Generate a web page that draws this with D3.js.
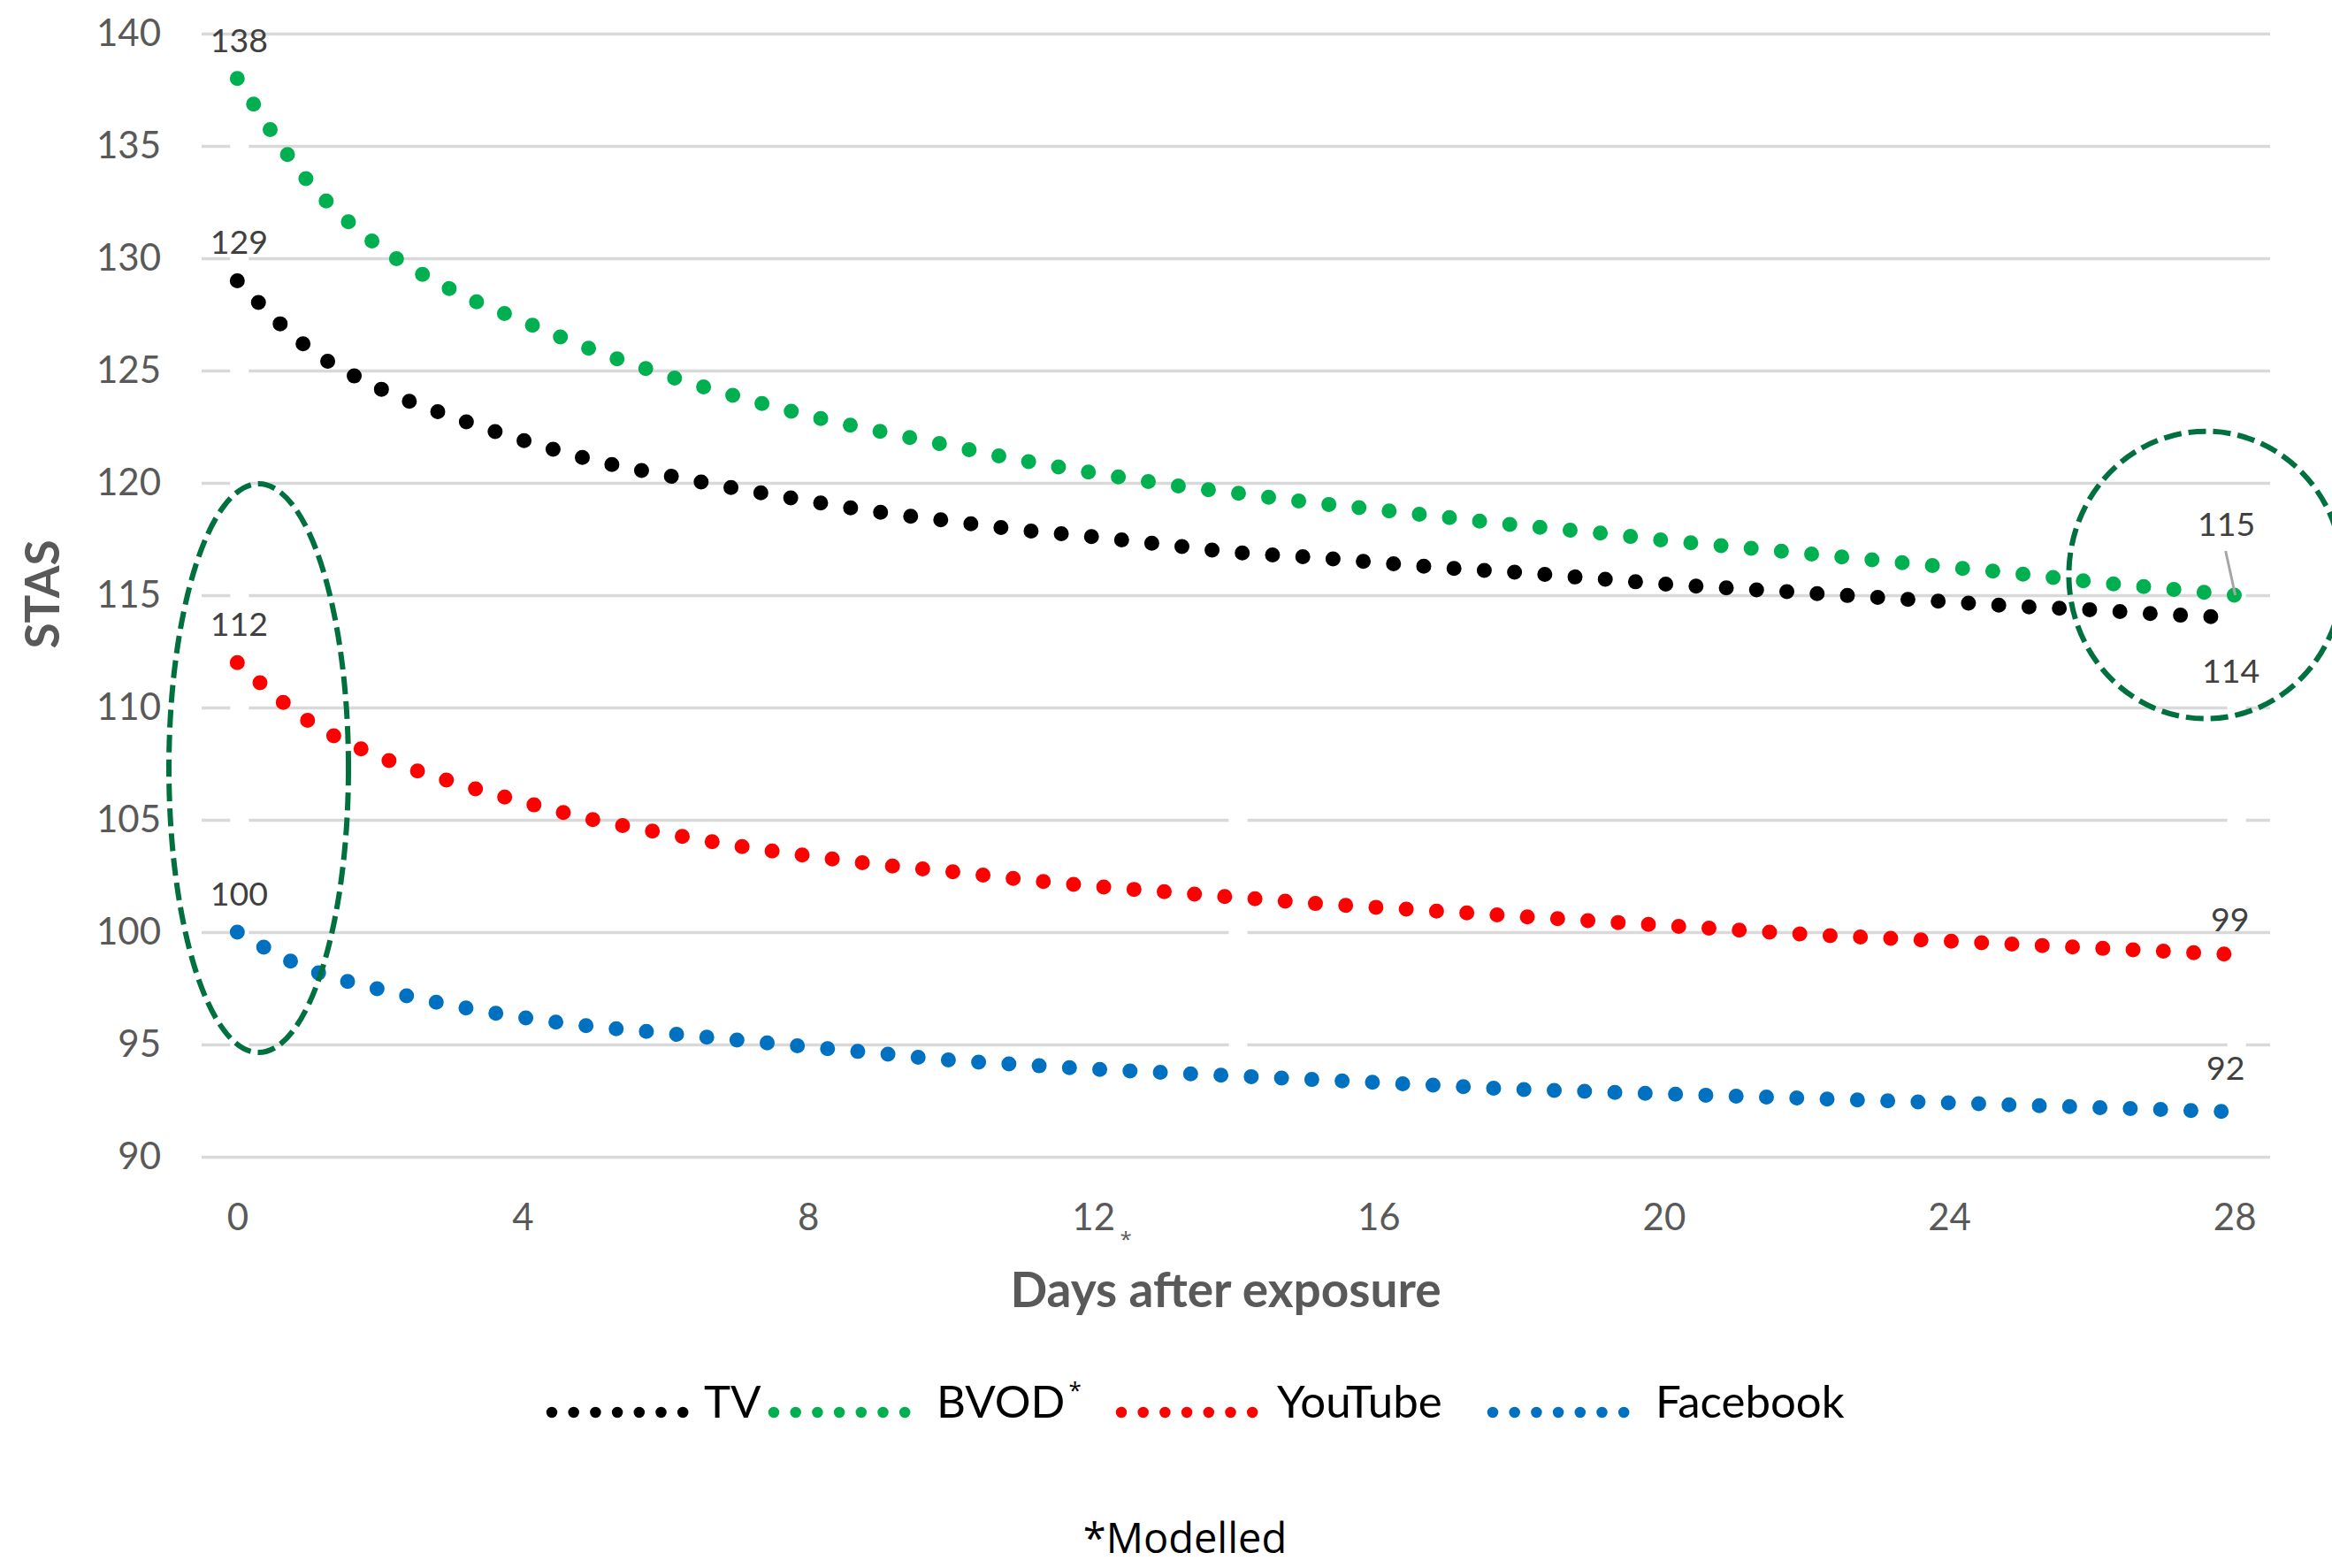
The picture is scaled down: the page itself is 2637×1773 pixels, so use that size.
<!DOCTYPE html>
<html>
<head>
<meta charset="utf-8">
<script src="https://cdn.jsdelivr.net/npm/d3@7"></script>
<style>
  html, body { margin: 0; padding: 0; background: #ffffff; }
  svg { display: block; font-family: Lato, "Open Sans", "Liberation Sans", sans-serif; }
</style>
</head>
<body>
<svg id="chart" width="2637" height="1773"></svg>
<script>
// ---- data ----
const days = [0, 1, 2, 3, 4, 5, 6, 7, 8, 9, 10, 11, 12, 13, 14, 15, 16, 17, 18, 19, 20, 21, 22, 23, 24, 25, 26, 27, 28];
const tickDays = [0, 4, 8, 12, 16, 20, 24, 28];
const yTicks = [90, 95, 100, 105, 110, 115, 120, 125, 130, 135, 140];

const seriesNames = ["TV", "BVOD", "YouTube", "Facebook"];
const tvValues = [129.0, 126.0, 124.2, 122.95, 121.9, 121.0, 120.35, 119.75, 119.2, 118.7, 118.3, 117.9, 117.6, 117.25, 116.9, 116.7, 116.45, 116.2, 116.0, 115.75, 115.5, 115.3, 115.1, 114.9, 114.7, 114.5, 114.35, 114.15, 114.0];
const bvodValues = [138.0, 133.4, 130.5, 128.6, 127.2, 125.9, 124.8, 123.85, 123.0, 122.3, 121.65, 121.0, 120.45, 119.95, 119.55, 119.15, 118.8, 118.45, 118.1, 117.8, 117.45, 117.15, 116.85, 116.55, 116.25, 115.95, 115.6, 115.3, 115.0];
const youtubeValues = [112.0, 109.4, 107.8, 106.7, 105.8, 105.0, 104.4, 103.85, 103.4, 103.0, 102.7, 102.35, 102.05, 101.8, 101.55, 101.3, 101.1, 100.9, 100.7, 100.5, 100.3, 100.1, 99.9, 99.75, 99.6, 99.45, 99.3, 99.15, 99.0];
const facebookValues = [100.0, 98.35, 97.45, 96.75, 96.2, 95.8, 95.5, 95.2, 94.9, 94.6, 94.3, 94.1, 93.9, 93.75, 93.6, 93.45, 93.3, 93.15, 93.0, 92.9, 92.8, 92.7, 92.6, 92.5, 92.4, 92.3, 92.2, 92.1, 92.0];
const seriesColors = ["#000000", "#00B050", "#FF0000", "#0070C0"];

// value labels shown at the first and last day of each series
const startLabels = ["129", "138", "112", "100"];
const endLabels = ["114", "115", "99", "92"];

// ---- layout ----
const W = 2637, H = 1773;
const plot = { left: 228, right: 2567, top: 38, bottom: 1308 };
const svg = d3.select("#chart");
svg.append("rect").attr("width", W).attr("height", H).attr("fill", "#ffffff");

const x = d3.scalePoint().domain(days).range([plot.left, plot.right]).padding(0.5);
const y = d3.scaleLinear().domain([90, 140]).range([plot.bottom, plot.top]);

const series = seriesNames.map((name, i) => ({
  name,
  color: seriesColors[i],
  values: [tvValues, bvodValues, youtubeValues, facebookValues][i]
}));

// ---- horizontal gridlines ----
const grid = svg.append("g")
  .attr("transform", `translate(${plot.left},0)`)
  .call(d3.axisLeft(y).tickValues(yTicks).tickSize(-(plot.right - plot.left)).tickFormat(""));
grid.select(".domain").remove();
grid.selectAll(".tick line").attr("stroke", "#D9D9D9").attr("stroke-width", 3.4);

// small white breaks across some gridlines
const gridBreaks = [
  { day: 0, values: [95, 100, 105, 110, 115, 120, 125, 130, 135] },
  { day: 14, values: [95, 100, 105] },
  { day: 28, values: [95, 105, 110, 115] }
];
gridBreaks.forEach(b => {
  svg.append("g").selectAll("rect").data(b.values).join("rect")
    .attr("x", x(b.day) + 2.5 - 10.5)
    .attr("y", v => y(v) - 4)
    .attr("width", 21)
    .attr("height", 8)
    .attr("fill", "#ffffff");
});

// ---- axes ----
const yAxis = svg.append("g")
  .attr("transform", `translate(${plot.left},0)`)
  .call(d3.axisLeft(y).tickValues(yTicks).tickSize(0).tickPadding(46));
yAxis.select(".domain").remove();
yAxis.selectAll("text")
  .attr("font-family", "Lato, 'Open Sans', sans-serif")
  .attr("font-size", 42).attr("fill", "#595959");

const xAxis = svg.append("g")
  .attr("transform", `translate(0,${plot.bottom})`)
  .call(d3.axisBottom(x).tickValues(tickDays).tickSize(0).tickPadding(53));
xAxis.select(".domain").remove();
xAxis.selectAll("text")
  .attr("font-family", "Lato, 'Open Sans', sans-serif")
  .attr("font-size", 42).attr("fill", "#595959");

// little asterisk next to the day-12 tick
svg.append("text")
  .attr("x", x(12) + 37).attr("y", 1410)
  .attr("text-anchor", "middle")
  .attr("font-family", "'Open Sans', sans-serif")
  .attr("font-size", 24).attr("fill", "#595959")
  .text("*");

// axis titles
svg.append("text")
  .attr("x", 1386).attr("y", 1478)
  .attr("text-anchor", "middle")
  .attr("font-size", 55).attr("font-weight", 700).attr("fill", "#595959")
  .text("Days after exposure");

svg.append("text")
  .attr("transform", "translate(67,672) rotate(-90)")
  .attr("text-anchor", "middle")
  .attr("font-size", 53).attr("font-weight", 700).attr("fill", "#595959")
  .text("STAS");

// ---- dotted series lines ----
const line = d3.line()
  .x((d, i) => x(days[i]))
  .y(d => y(d))
  .curve(d3.curveMonotoneX);

svg.append("g").selectAll("path").data(series).join("path")
  .attr("d", s => line(s.values))
  .attr("fill", "none")
  .attr("stroke", s => s.color)
  .attr("stroke-width", 17)
  .attr("stroke-linecap", "round")
  .attr("stroke-dasharray", "0 34.3");

// ---- highlight ellipses ----
const highlights = [
  { day: 0.3, value: 107.3, rx: 101.5, ry: 321.5 },
  { day: 27.6, value: 115.9, rx: 155, ry: 162.5 }
];
svg.append("g").selectAll("ellipse").data(highlights).join("ellipse")
  .attr("cx", d => x(0) + d.day * x.step())
  .attr("cy", d => y(d.value))
  .attr("rx", d => d.rx)
  .attr("ry", d => d.ry)
  .attr("fill", "none")
  .attr("stroke", "#00703F")
  .attr("stroke-width", 6)
  .attr("stroke-dasharray", "20 8");

// ---- value labels ----
const labelFont = { size: 37.5, color: "#404040" };
const first = days[0], last = days[days.length - 1];

// start labels sit above the first point
svg.append("g").selectAll("text").data(series).join("text")
  .attr("x", s => x(first) + 2)
  .attr("y", s => y(s.values[0]) - 30)
  .attr("text-anchor", "middle")
  .attr("font-size", labelFont.size).attr("fill", labelFont.color)
  .text((s, i) => startLabels[i]);

// end labels, each nudged off its point
const endOffsets = [
  { dx: -4, dy: 74 },   // TV, below
  { dx: -9, dy: -67 },  // BVOD, above with a leader line
  { dx: -5, dy: -26 },  // YouTube
  { dx: -10, dy: -36 }  // Facebook
];
svg.append("g").selectAll("text").data(series).join("text")
  .attr("x", (s, i) => x(last) + endOffsets[i].dx)
  .attr("y", (s, i) => y(s.values[s.values.length - 1]) + endOffsets[i].dy)
  .attr("text-anchor", "middle")
  .attr("font-size", labelFont.size).attr("fill", labelFont.color)
  .text((s, i) => endLabels[i]);

// leader line for the BVOD end label
const bvodEnd = bvodValues[bvodValues.length - 1];
svg.append("line")
  .attr("x1", x(last) - 10).attr("y1", y(bvodEnd) - 50)
  .attr("x2", x(last) + 1).attr("y2", y(bvodEnd))
  .attr("stroke", "#A6A6A6").attr("stroke-width", 3);

// ---- legend ----
const legendItems = [
  { left: 618, textDx: 178 },
  { left: 869, textDx: 190 },
  { left: 1262, textDx: 182 },
  { left: 1682, textDx: 190 }
];
const legendY = 1597;
const legend = svg.append("g");
series.forEach((s, i) => {
  const it = legendItems[i];
  legend.append("line")
    .attr("x1", it.left + 6).attr("x2", it.left + 6 + 6 * 24.7 + 1)
    .attr("y1", legendY).attr("y2", legendY)
    .attr("stroke", s.color).attr("stroke-width", 12.5)
    .attr("stroke-linecap", "round")
    .attr("stroke-dasharray", "0 24.7");
  const t = legend.append("text")
    .attr("x", it.left + it.textDx).attr("y", 1603)
    .attr("font-size", 51).attr("fill", "#000000")
    .text(s.name);
  if (s.name === "BVOD") {
    t.append("tspan")
      .attr("font-family", "'Open Sans', sans-serif")
      .attr("font-size", 26).attr("dy", -22).attr("dx", 4).text("*");
  }
});

// footnote
svg.append("text")
  .attr("x", 1340).attr("y", 1756)
  .attr("text-anchor", "middle")
  .attr("font-family", "'Open Sans', sans-serif")
  .attr("font-size", 47).attr("fill", "#000000")
  .text("*Modelled");
</script>
</body>
</html>
